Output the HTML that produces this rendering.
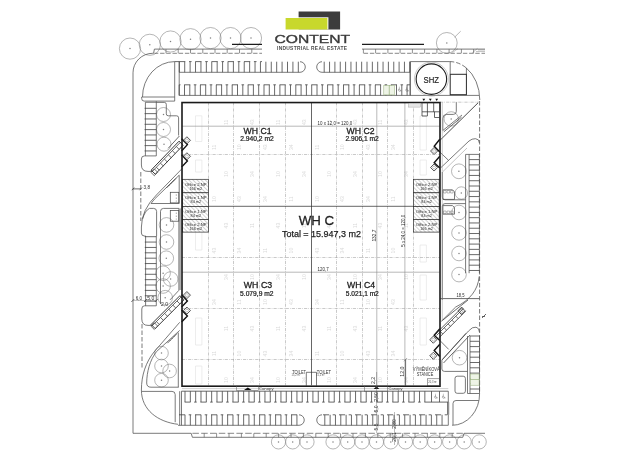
<!DOCTYPE html>
<html><head><meta charset="utf-8"><style>
html,body{margin:0;padding:0;background:#fff;}
body{width:624px;height:468px;overflow:hidden;position:relative;}
svg{position:absolute;left:0;top:0;will-change:transform;filter:blur(0.3px);}
.ln{fill:none;stroke:#4d4d4d;stroke-width:0.75;}
.st{fill:none;stroke:#444;stroke-width:0.8;}
.sw{fill:none;stroke:#555;stroke-width:0.65;}
.cap{fill:none;stroke:#4f4f4f;stroke-width:0.7;stroke-dasharray:6.2 1.6 1.4 1.5;}
.dsh{fill:none;stroke:#4d4d4d;stroke-width:0.75;stroke-dasharray:4.5 2;}
.tr{fill:none;stroke:#858585;stroke-width:0.6;}
.grid{fill:none;stroke:#9e9e9e;stroke-width:0.55;stroke-dasharray:3.2 1.1 0.7 1.1;}
text{font-family:"Liberation Sans",sans-serif;text-anchor:middle;fill:#1e1e1e;}
.sa{text-anchor:start;}
.t0{font-size:13.5px;stroke:#1e1e1e;stroke-width:0.3px;}
.t1{font-size:8.2px;stroke:#1e1e1e;stroke-width:0.28px;}
.t2{font-size:6.3px;stroke:#1e1e1e;stroke-width:0.22px;}
.tt{font-size:9.5px;stroke:#1e1e1e;stroke-width:0.25px;}
.dim{font-size:5px;fill:#2a2a2a;}
.sm{font-size:3.3px;fill:#444;}
.fl{font-size:5.2px;fill:#dadada;}
.sm2{font-size:2.6px;fill:#555;}
.tl{font-size:4.7px;fill:#333;}
.d5{font-size:5.3px;fill:#333;}
.off{font-size:4.1px;fill:#262626;}
.dis{font-size:4px;fill:#555;}
.shz{font-size:9.3px;fill:#222;stroke:#222;stroke-width:0.2px;}
.logo1{font-size:11.6px;fill:#3a3a3a;stroke:#3a3a3a;stroke-width:0.35px;}
.logo2{font-size:4.9px;font-weight:bold;fill:#4a4a4a;}
</style></head><body>
<svg width="624" height="468" viewBox="0 0 624 468">
<defs><pattern id="hatch" width="2.9" height="2.9" patternUnits="userSpaceOnUse" patternTransform="rotate(-45)"><rect width="2.9" height="2.9" fill="#fff"/><path d="M0,0V2.9" stroke="#6a6a6a" stroke-width="0.6"/></pattern></defs>
<circle cx="130" cy="48.6" r="10.6" class="tr"/>
<circle cx="130" cy="48.6" r="0.75" fill="#808080"/>
<circle cx="149.8" cy="44.8" r="10.6" class="tr"/>
<circle cx="149.8" cy="44.8" r="0.75" fill="#808080"/>
<circle cx="170.5" cy="41.5" r="10.6" class="tr"/>
<circle cx="170.5" cy="41.5" r="0.75" fill="#808080"/>
<circle cx="190.5" cy="39.2" r="10.6" class="tr"/>
<circle cx="190.5" cy="39.2" r="0.75" fill="#808080"/>
<circle cx="210.5" cy="38.1" r="10.6" class="tr"/>
<circle cx="210.5" cy="38.1" r="0.75" fill="#808080"/>
<circle cx="230.5" cy="38.1" r="10.6" class="tr"/>
<circle cx="230.5" cy="38.1" r="0.75" fill="#808080"/>
<circle cx="251" cy="38.1" r="10.6" class="tr"/>
<circle cx="251" cy="38.1" r="0.75" fill="#808080"/>
<circle cx="446.8" cy="42.9" r="10.4" class="tr"/>
<circle cx="446.8" cy="42.9" r="0.75" fill="#808080"/>
<path d="M454.6,37.2L460.7,31.2" class="tr"/>
<path d="M452.4,52.6L458,48.6M472.3,52.8L477.5,48.4M476,51.5H485M478,50H485" stroke="#888" stroke-width="0.5" fill="none"/>
<circle cx="163.5" cy="114.5" r="7" class="tr"/>
<circle cx="163.5" cy="114.5" r="0.75" fill="#808080"/>
<circle cx="163.5" cy="129.5" r="7" class="tr"/>
<circle cx="163.5" cy="129.5" r="0.75" fill="#808080"/>
<circle cx="164" cy="144.2" r="7" class="tr"/>
<circle cx="164" cy="144.2" r="0.75" fill="#808080"/>
<circle cx="166.5" cy="224.9" r="7.3" class="tr"/>
<circle cx="166.5" cy="224.9" r="0.75" fill="#808080"/>
<circle cx="166.5" cy="242" r="7.3" class="tr"/>
<circle cx="166.5" cy="242" r="0.75" fill="#808080"/>
<circle cx="166.3" cy="258.2" r="7.3" class="tr"/>
<circle cx="166.3" cy="258.2" r="0.75" fill="#808080"/>
<circle cx="163.1" cy="273.2" r="7.3" class="tr"/>
<circle cx="163.1" cy="273.2" r="0.75" fill="#808080"/>
<circle cx="170.6" cy="279" r="7.3" class="tr"/>
<circle cx="170.6" cy="279" r="0.75" fill="#808080"/>
<circle cx="163.1" cy="286" r="7.3" class="tr"/>
<circle cx="163.1" cy="286" r="0.75" fill="#808080"/>
<circle cx="165.2" cy="297.7" r="7.3" class="tr"/>
<circle cx="165.2" cy="297.7" r="0.75" fill="#808080"/>
<circle cx="161.5" cy="353.1" r="6.8" class="tr"/>
<circle cx="161.5" cy="353.1" r="0.75" fill="#808080"/>
<circle cx="161.5" cy="366" r="6.8" class="tr"/>
<circle cx="161.5" cy="366" r="0.75" fill="#808080"/>
<circle cx="169.6" cy="371" r="6.8" class="tr"/>
<circle cx="169.6" cy="371" r="0.75" fill="#808080"/>
<circle cx="161.5" cy="380.2" r="6.8" class="tr"/>
<circle cx="161.5" cy="380.2" r="0.75" fill="#808080"/>
<circle cx="451.2" cy="118.9" r="7.2" class="tr"/>
<circle cx="451.2" cy="118.9" r="0.75" fill="#808080"/>
<circle cx="458.9" cy="171.3" r="7.4" class="tr"/>
<circle cx="458.9" cy="171.3" r="0.75" fill="#808080"/>
<circle cx="461.3" cy="193" r="6.2" class="tr"/>
<circle cx="461.3" cy="193" r="0.75" fill="#808080"/>
<circle cx="459" cy="212.5" r="7.3" class="tr"/>
<circle cx="459" cy="212.5" r="0.75" fill="#808080"/>
<circle cx="459" cy="232.9" r="7.3" class="tr"/>
<circle cx="459" cy="232.9" r="0.75" fill="#808080"/>
<circle cx="459" cy="253.5" r="7.3" class="tr"/>
<circle cx="459" cy="253.5" r="0.75" fill="#808080"/>
<circle cx="459" cy="274.6" r="7.3" class="tr"/>
<circle cx="459" cy="274.6" r="0.75" fill="#808080"/>
<circle cx="459.5" cy="357.7" r="7.3" class="tr"/>
<circle cx="459.5" cy="357.7" r="0.75" fill="#808080"/>
<circle cx="278.5" cy="441.9" r="7.1" class="tr"/>
<circle cx="278.5" cy="441.9" r="0.75" fill="#808080"/>
<circle cx="292.7" cy="441.9" r="7.1" class="tr"/>
<circle cx="292.7" cy="441.9" r="0.75" fill="#808080"/>
<circle cx="307" cy="441.9" r="7.1" class="tr"/>
<circle cx="307" cy="441.9" r="0.75" fill="#808080"/>
<circle cx="333" cy="441.9" r="7.1" class="tr"/>
<circle cx="333" cy="441.9" r="0.75" fill="#808080"/>
<circle cx="347.7" cy="441.9" r="7.1" class="tr"/>
<circle cx="347.7" cy="441.9" r="0.75" fill="#808080"/>
<circle cx="362" cy="441.9" r="7.1" class="tr"/>
<circle cx="362" cy="441.9" r="0.75" fill="#808080"/>
<circle cx="376.5" cy="441.9" r="7.1" class="tr"/>
<circle cx="376.5" cy="441.9" r="0.75" fill="#808080"/>
<circle cx="390.8" cy="441.9" r="7.1" class="tr"/>
<circle cx="390.8" cy="441.9" r="0.75" fill="#808080"/>
<circle cx="405.5" cy="441.9" r="7.1" class="tr"/>
<circle cx="405.5" cy="441.9" r="0.75" fill="#808080"/>
<circle cx="420.2" cy="441.9" r="7.1" class="tr"/>
<circle cx="420.2" cy="441.9" r="0.75" fill="#808080"/>
<circle cx="434.6" cy="441.9" r="7.1" class="tr"/>
<circle cx="434.6" cy="441.9" r="0.75" fill="#808080"/>
<circle cx="449.6" cy="441.9" r="7.1" class="tr"/>
<circle cx="449.6" cy="441.9" r="0.75" fill="#808080"/>
<circle cx="464.2" cy="441.9" r="7.1" class="tr"/>
<circle cx="464.2" cy="441.9" r="0.75" fill="#808080"/>
<circle cx="479.2" cy="441.9" r="7.1" class="tr"/>
<circle cx="479.2" cy="441.9" r="0.75" fill="#808080"/>
<path d="M133,433.3V72.8A19.7,19.5 0 0 1 152.7,53.3H153.6L154.4,49.1H262M362,49.1H485" class="ln"/>
<path d="M154.4,53.3H262" stroke="#555" stroke-width="0.7" fill="none" stroke-dasharray="4.4 1.8" stroke-dashoffset="0.50"/>
<path d="M166.0,49.1V53.3M178.2,49.1V53.3M190.5,49.1V53.3M202.8,49.1V53.3M215.0,49.1V53.3M227.2,49.1V53.3M239.5,49.1V53.3M251.8,49.1V53.3" class="sw"/>
<path d="M362,53.3H485" stroke="#555" stroke-width="0.7" fill="none" stroke-dasharray="4.4 1.8" stroke-dashoffset="4.50"/>
<path d="M363.4,49.1V53.3M375.6,49.1V53.3M387.9,49.1V53.3M400.1,49.1V53.3M412.4,49.1V53.3M424.6,49.1V53.3M436.9,49.1V53.3M449.1,49.1V53.3M461.4,49.1V53.3M473.6,49.1V53.3" class="sw"/>
<path d="M133,433.3H191.2L192.4,437.3H462.8L464,433.3H485" class="ln"/>
<path d="M192.4,433.3H464" stroke="#555" stroke-width="0.7" fill="none" stroke-dasharray="6.5 2.3"/>
<path d="M204.2,433.3V437.3M216.6,433.3V437.3M229.0,433.3V437.3M241.4,433.3V437.3M253.8,433.3V437.3M266.2,433.3V437.3M278.6,433.3V437.3M291.0,433.3V437.3M303.4,433.3V437.3M315.8,433.3V437.3M328.2,433.3V437.3M340.6,433.3V437.3M353.0,433.3V437.3M365.4,433.3V437.3M377.8,433.3V437.3M390.2,433.3V437.3M402.6,433.3V437.3M415.0,433.3V437.3M427.4,433.3V437.3M439.8,433.3V437.3M452.2,433.3V437.3" class="sw"/>
<path d="M232,44.3H262M362,44.3H424" stroke="#1c1c1c" stroke-width="1.15" fill="none"/>
<path d="M174.7,61.6A32.2,35.4 0 0 0 142.5,97H174.7M174.7,61.6V101.1H144.2Q141.7,101.1 141.7,98.6V97H142.5" class="ln"/>
<path d="M179.2,61.6V95.5" class="ln"/>
<path d="M174.7,61.6H179.2" class="st"/><path d="M179.1,61.6H262" class="st" stroke-dasharray="6.2 3.7 2.6 3.73"/>
<path d="M179.2,72.3H300M322,72.3H410" class="ln"/>
<path d="M300,61.7A5.3,5.3 0 0 1 300,72.3M322,72.3A5.3,5.3 0 0 1 322,61.7" class="ln"/>
<path d="M179.30,61.7V72.3M184.71,61.7V72.3M190.12,61.7V72.3M195.53,61.7V72.3M200.94,61.7V72.3M206.35,61.7V72.3M211.76,61.7V72.3M217.17,61.7V72.3M222.58,61.7V72.3M227.99,61.7V72.3M233.40,61.7V72.3M238.81,61.7V72.3M244.22,61.7V72.3M249.63,61.7V72.3M255.04,61.7V72.3M260.45,61.7V72.3M265.86,61.7V72.3M271.27,61.7V72.3M276.68,61.7V72.3M282.09,61.7V72.3M287.50,61.7V72.3M292.91,61.7V72.3M298.32,61.7V72.3" class="st"/>
<path d="M324.20,61.7V72.3M329.55,61.7V72.3M334.90,61.7V72.3M340.25,61.7V72.3M345.60,61.7V72.3M350.95,61.7V72.3M356.30,61.7V72.3M361.65,61.7V72.3M367.00,61.7V72.3M372.35,61.7V72.3M377.70,61.7V72.3M383.05,61.7V72.3M388.40,61.7V72.3M393.75,61.7V72.3M399.10,61.7V72.3M404.45,61.7V72.3M409.80,61.7V72.3" class="st"/>
<path d="M179.2,84.8H410" class="st" stroke-dasharray="2.6 3.7 6.1 3.5" stroke-dashoffset="1.3"/>
<path d="M179.2,95.4H479" class="ln"/>
<path d="M179.20,84.8V95.4M184.50,84.8V95.4M189.80,84.8V95.4M195.10,84.8V95.4M200.40,84.8V95.4M205.70,84.8V95.4M211.00,84.8V95.4M216.30,84.8V95.4M221.60,84.8V95.4M226.90,84.8V95.4M232.20,84.8V95.4M237.50,84.8V95.4M242.80,84.8V95.4M248.10,84.8V95.4M253.40,84.8V95.4M258.70,84.8V95.4M264.00,84.8V95.4M269.30,84.8V95.4M274.60,84.8V95.4M279.90,84.8V95.4M285.20,84.8V95.4M290.50,84.8V95.4M295.80,84.8V95.4M301.10,84.8V95.4M306.40,84.8V95.4M311.70,84.8V95.4M317.00,84.8V95.4M322.30,84.8V95.4M327.60,84.8V95.4M332.90,84.8V95.4M338.20,84.8V95.4M343.50,84.8V95.4M348.80,84.8V95.4M354.10,84.8V95.4M359.40,84.8V95.4M364.70,84.8V95.4M370.00,84.8V95.4M375.30,84.8V95.4M380.60,84.8V95.4M385.90,84.8V95.4M391.20,84.8V95.4M396.50,84.8V95.4M401.80,84.8V95.4M407.10,84.8V95.4" class="st"/>
<path d="M410,61.6V95.4" class="ln"/>
<rect x="383.8" y="85.4" width="5.3" height="9.5" fill="#eef4e6" stroke="#93ad78" stroke-width="0.5"/>
<rect x="389.3" y="85.4" width="5.3" height="9.5" fill="#eef4e6" stroke="#93ad78" stroke-width="0.5"/>
<path d="M399.3,87.8v2.2h1.2l0.5,1.4M399.3,88.8a1.3,1.3 0 1 0 1.6,1.6" stroke="#555" stroke-width="0.4" fill="none"/><circle cx="399.3" cy="87.1" r="0.4" fill="#555"/>
<path d="M406.7,87.8v2.2h1.2l0.5,1.4M406.7,88.8a1.3,1.3 0 1 0 1.6,1.6" stroke="#555" stroke-width="0.4" fill="none"/><circle cx="406.7" cy="87.1" r="0.4" fill="#555"/>
<path d="M410.4,95.4V61.6H449.8" class="ln"/>
<path d="M449.8,61.6A30,38.4 0 0 1 466.1,67.8" class="dsh"/>
<path d="M466.1,67.8A30,38.4 0 0 1 479.8,100M466.4,67.8V74.4" class="ln"/>
<circle cx="431.4" cy="79.1" r="17" fill="none" stroke="#999" stroke-width="0.5"/>
<circle cx="431.4" cy="79.1" r="15.25" fill="none" stroke="#1e1e1e" stroke-width="1.1"/>
<text x="431.3" y="82.7" class="shz" textLength="15.4" lengthAdjust="spacingAndGlyphs">SHZ</text>
<rect x="450.2" y="74.3" width="16.2" height="20.4" fill="none" stroke="#2a2a2a" stroke-width="1"/>
<path d="M450.2,61.6V74.3" class="ln"/>
<path d="M479.6,101V393.5" class="dsh"/>
<path d="M440,102.2H479.6" class="grid"/>
<path d="M478,102.9L440.3,140" stroke="#2e2e2e" stroke-width="0.85" fill="none"/>
<path d="M456.3,102.2V111.4Q456.3,114.4 453.3,114.4H446.8Q442.8,114.4 442.8,118.4V130.5L462,115" class="ln"/>
<path d="M443.8,131.8L461.5,117.2" class="st"/>
<path d="M441,167.5L469,141Q472,138.5 475.5,138.7Q479.4,139 479.4,143" class="ln"/>
<path d="M443,171.5L467,148" stroke="#888" stroke-width="0.5"/>
<path d="M465.6,154.4V273.2M469.1,154.4V273.2" class="ln"/>
<path d="M465.6,154.4H479.4" class="ln"/>
<path d="M469.1,159.60H479.4M469.1,164.88H479.4M469.1,170.16H479.4M469.1,175.44H479.4M469.1,180.72H479.4M469.1,186.00H479.4M469.1,191.28H479.4M469.1,196.56H479.4M469.1,201.84H479.4M469.1,207.12H479.4M469.1,212.40H479.4M469.1,217.68H479.4M469.1,222.96H479.4M469.1,228.24H479.4M469.1,233.52H479.4M469.1,238.80H479.4M469.1,244.08H479.4M469.1,249.36H479.4M469.1,254.64H479.4M469.1,259.92H479.4M469.1,265.20H479.4M469.1,270.48H479.4" class="st"/>
<path d="M479.4,154.4V273.2" class="ln"/>
<path d="M442.3,172V197Q442.3,199.8 445,199.8H465.6M465.6,203.6H445Q442.3,203.6 442.3,206.4V300" class="ln"/>
<path d="M442.9,189.8H452.5L454.5,191.8V199.4H442.9Z" class="ln"/>
<path d="M442.9,205.6H452.5L454.5,207.6V214.2H442.9Z" class="ln"/>
<path d="M443.6,190.5h2.5v2.5h-2.5zM447.1,190.5h2.5v2.5h-2.5zM450.6,190.5h2.5v2.5h-2.5zM443.6,211h2.5v2.5h-2.5zM447.1,211h2.5v2.5h-2.5zM450.6,211h2.5v2.5h-2.5z" stroke="#666" stroke-width="0.45" fill="none"/>
<path d="M479.2,276.4C478,290 470,300 455.7,307L441.2,321.4" class="ln"/>
<path d="M440.4,298.6H479.4" class="st"/>
<text x="460.5" y="297.2" class="dim" textLength="8" lengthAdjust="spacingAndGlyphs">18,5</text>
<path d="M482,318L486,314M482,316.5L485,316.5" class="st"/>
<path d="M441.9,360.1L468.5,331Q472.5,326.5 476,327.2Q479.4,328 479.4,332" class="ln"/>
<path d="M443.5,363L470,335" class="st"/>
<path d="M441.9,360.1V369Q441.9,371.4 444.5,371.4H467.5" class="ln"/>
<path d="M467.5,336V393.5M470,336V393.5" class="ln"/>
<path d="M470,336.00H479.6M470,341.30H479.6M470,346.60H479.6M470,351.90H479.6M470,357.20H479.6M470,362.50H479.6M470,367.80H479.6M470,373.10H479.6M470,378.40H479.6M470,383.70H479.6M470,389.00H479.6" class="st"/>
<path d="M479.5,336V393.5" class="ln"/>
<rect x="470.3" y="374" width="8.8" height="5.6" fill="#eef4e6" stroke="#93ad78" stroke-width="0.5"/>
<rect x="470.3" y="379.6" width="8.8" height="5.6" fill="#eef4e6" stroke="#93ad78" stroke-width="0.5"/>
<rect x="455" y="376.2" width="10.4" height="17.1" rx="2.2" class="ln"/>
<path d="M478.7,400.5H456Q453,400.5 453,403.5V425M479.6,393.5A27.5,31.5 0 0 1 452.1,425.3" class="ln"/>
<path d="M447.5,402.1V414.8M448.7,402.1V414.8" class="ln"/>
<path d="M467.5,393.5H479.6" class="ln"/>
<path d="M140.8,172V221M142,324V368" class="dsh"/>
<path d="M133,188.9H140.8M131.8,190.2L134.2,187.6M139.6,190.2L142,187.6" class="st"/>
<text x="143.6" y="188.5" class="dim sa" textLength="6.4" lengthAdjust="spacingAndGlyphs">3,8</text>
<path d="M145.4,102.3V155.9M156.3,101.3V155.9" class="ln"/>
<path d="M144.6,108.30H156.3M144.6,113.63H156.3M144.6,118.96H156.3M144.6,124.29H156.3M144.6,129.62H156.3M144.6,134.95H156.3M144.6,140.28H156.3M144.6,145.61H156.3M144.6,150.94H156.3" class="st"/>
<path d="M145.4,102.3H156.3" class="ln"/>
<path d="M156.3,102.4H164.3Q166.3,102.4 166.3,104.4V113.8Q166.3,115.8 168.3,115.8H176.6Q178.6,115.8 178.6,117.8V135.5" class="ln"/>
<path d="M156.3,155.9H144.5Q141.4,155.9 141.4,159V165Q141.4,171.4 148,171.4H152.4" class="ln"/>
<path d="M179.0,141.2L151.1,170.2L155.3,174.2L183.2,145.2Z" stroke="#222" stroke-width="0.9" fill="none"/>
<path d="M180.3,142.4L152.4,171.4" class="st"/>
<path d="M176.3,146.5L179.2,149.4M172.3,150.7L175.2,153.5M168.3,154.8L171.2,157.6M164.3,159.0L167.2,161.8M160.3,163.1L163.3,165.9M156.3,167.3L159.3,170.1" class="st"/>
<rect x="-2.4" y="-2.4" width="4.8" height="4.8" transform="translate(154.3,172.3) rotate(45)" class="ln"/>
<path d="M181.6,138.7L187.4,144.6L181.6,151" stroke="#111" stroke-width="1.4" fill="none"/>
<path d="M181.6,154.7L187.4,161.1L181.6,167" stroke="#111" stroke-width="1.4" fill="none"/>
<rect x="-2.5" y="-2.5" width="5" height="5" transform="translate(186.9,140.3) rotate(45)" stroke="#333" stroke-width="0.8" fill="none"/>
<rect x="-1.2" y="-1.2" width="2.4" height="2.4" transform="translate(186.9,140.3) rotate(45)" stroke="#666" stroke-width="0.4" fill="none"/>
<rect x="-2.5" y="-2.5" width="5" height="5" transform="translate(186.9,156.3) rotate(45)" stroke="#333" stroke-width="0.8" fill="none"/>
<rect x="-1.2" y="-1.2" width="2.4" height="2.4" transform="translate(186.9,156.3) rotate(45)" stroke="#666" stroke-width="0.4" fill="none"/>
<path d="M179.4,136L168.2,148.3" class="st"/>
<path d="M439.8,139.2L434.2,146.2L439.8,152" stroke="#111" stroke-width="1.4" fill="none"/>
<path d="M439.8,156.3L434.2,162.7L439.8,168" stroke="#111" stroke-width="1.4" fill="none"/>
<rect x="-2.5" y="-2.5" width="5" height="5" transform="translate(434.1,151) rotate(45)" stroke="#333" stroke-width="0.8" fill="none"/>
<rect x="-1.2" y="-1.2" width="2.4" height="2.4" transform="translate(434.1,151) rotate(45)" stroke="#666" stroke-width="0.4" fill="none"/>
<rect x="-2.5" y="-2.5" width="5" height="5" transform="translate(434.1,167.5) rotate(45)" stroke="#333" stroke-width="0.8" fill="none"/>
<rect x="-1.2" y="-1.2" width="2.4" height="2.4" transform="translate(434.1,167.5) rotate(45)" stroke="#666" stroke-width="0.4" fill="none"/>
<path d="M439.8,152L448.5,160.3" class="ln"/>
<path d="M439.8,328.8L434.2,335.3L439.8,340.4" stroke="#111" stroke-width="1.4" fill="none"/>
<path d="M439.8,344.2L434.2,350.6L439.8,356.4" stroke="#111" stroke-width="1.4" fill="none"/>
<rect x="-2.5" y="-2.5" width="5" height="5" transform="translate(433.3,339.7) rotate(45)" stroke="#333" stroke-width="0.8" fill="none"/>
<rect x="-1.2" y="-1.2" width="2.4" height="2.4" transform="translate(433.3,339.7) rotate(45)" stroke="#666" stroke-width="0.4" fill="none"/>
<rect x="-2.5" y="-2.5" width="5" height="5" transform="translate(433.3,355.8) rotate(45)" stroke="#333" stroke-width="0.8" fill="none"/>
<rect x="-1.2" y="-1.2" width="2.4" height="2.4" transform="translate(433.3,355.8) rotate(45)" stroke="#666" stroke-width="0.4" fill="none"/>
<path d="M439.8,340.4L448.7,349.4" class="ln"/>
<path d="M462.3,307.3L435.3,334.3M465.90000000000003,310.90000000000003L438.90000000000003,337.90000000000003" stroke="#2e2e2e" stroke-width="0.8" fill="none"/>
<path d="M463.5,308.5L436.5,335.5" class="st"/>
<path d="M459.6,312.4l2.4,2.4M455.8,316.2l2.4,2.4M451.9,320.1l2.4,2.4M448.1,323.9l2.4,2.4M444.2,327.8l2.4,2.4M440.4,331.6l2.4,2.4" class="st"/>
<rect x="-2.5" y="-2.5" width="5" height="5" transform="translate(461.5,310.8) rotate(45)" stroke="#333" stroke-width="0.8" fill="none"/>
<rect x="-1.2" y="-1.2" width="2.4" height="2.4" transform="translate(461.5,310.8) rotate(45)" stroke="#666" stroke-width="0.4" fill="none"/>
<path d="M442.3,320.5L468,300" class="st"/>
<path d="M442.3,359.6L466,333.3" class="st"/>
<path d="M442.3,102.2V320.5" stroke="#999" stroke-width="0.5"/>
<path d="M182.3,168.4L156.4,195Q141.4,210 141.4,227V233Q141.4,236 144.5,236H145.7" class="ln"/>
<path d="M179.2,175.2L154.5,199.1L151,203.5H179.2Z" class="ln"/>
<path d="M176,178.4L173,181.4M173.8,180.6L170.8,183.6M171.6,182.8L168.6,185.8M169.4,185L166.4,188" class="st"/>
<rect x="170.3" y="192.3" width="8.5" height="10.6" class="ln"/>
<rect x="170.3" y="210.5" width="8.5" height="10.7" class="ln"/>
<path d="M176.3,194.3v1.5M176.3,197.5v1.5M176.3,200.5v1.2M176.3,212.5v1.5M176.3,215.5v1.5M176.3,218.5v1.2" stroke="#777" stroke-width="0.6"/>
<path d="M156.6,236V211.4Q156.6,208.4 153.6,208.4H149.5Q145,210.5 142.6,219" class="ln"/>
<path d="M178.9,208.4H163.5Q160.5,208.4 160.5,211.4V304" class="ln"/>
<path d="M178.9,208.4V290.3L170,299.9M180.1,208.4V290" class="ln"/>
<path d="M145.6,236V305.8M156.3,236V305.8" class="ln"/>
<path d="M144.8,236.70H156.3M144.8,242.07H156.3M144.8,247.44H156.3M144.8,252.81H156.3M144.8,258.18H156.3M144.8,263.55H156.3M144.8,268.92H156.3M144.8,274.29H156.3M144.8,279.66H156.3M144.8,285.03H156.3M144.8,290.40H156.3M144.8,295.77H156.3M144.8,301.14H156.3" class="st"/>
<path d="M132.8,300.5H156.3" stroke="#888" stroke-width="0.5"/>
<path d="M131.3,302L134.3,299M144,302L147,299M154.8,302L157.8,299" stroke="#333" stroke-width="0.7"/>
<text x="135.8" y="299.8" class="dim sa" textLength="6.3" lengthAdjust="spacingAndGlyphs">6,0</text><text x="147.3" y="299.8" class="dim sa" textLength="7" lengthAdjust="spacingAndGlyphs">5,0</text><text x="161" y="305.8" class="dim sa" textLength="7" lengthAdjust="spacingAndGlyphs">2,0</text>
<path d="M156.3,305.8H144.5Q141.8,305.8 141.8,309V319Q141.8,325.4 148,325.4H153" class="ln"/>
<path d="M179.9,295.7L151.1,324.5L155.2,328.6L184.0,299.8Z" stroke="#222" stroke-width="0.9" fill="none"/>
<path d="M181.1,296.9L152.3,325.7" class="st"/>
<path d="M177.0,301.0L179.9,303.9M172.9,305.2L175.8,308.0M168.8,309.3L171.7,312.1M164.7,313.4L167.5,316.3M160.6,317.5L163.4,320.4M156.4,321.6L159.3,324.5" class="st"/>
<rect x="-2.4" y="-2.4" width="4.8" height="4.8" transform="translate(154.3,326.1) rotate(45)" class="ln"/>
<path d="M181.6,294.6L187.4,301L181.6,306.9" stroke="#111" stroke-width="1.4" fill="none"/>
<path d="M181.6,310.1L187.4,316L181.6,321.9" stroke="#111" stroke-width="1.4" fill="none"/>
<rect x="-2.5" y="-2.5" width="5" height="5" transform="translate(186.9,295.1) rotate(45)" stroke="#333" stroke-width="0.8" fill="none"/>
<rect x="-1.2" y="-1.2" width="2.4" height="2.4" transform="translate(186.9,295.1) rotate(45)" stroke="#666" stroke-width="0.4" fill="none"/>
<rect x="-2.5" y="-2.5" width="5" height="5" transform="translate(186.9,310.6) rotate(45)" stroke="#333" stroke-width="0.8" fill="none"/>
<rect x="-1.2" y="-1.2" width="2.4" height="2.4" transform="translate(186.9,310.6) rotate(45)" stroke="#666" stroke-width="0.4" fill="none"/>
<path d="M179.7,322.3L154,352C146,362 141.4,375 141.4,390C141.4,410 158,422 178,424.3" class="ln"/>
<path d="M179.7,330.4L156.4,351.7C150,360 146.7,372 146.7,383Q146.7,387.2 151,387.2H178.7" class="ln"/>
<path d="M177,333.6L174,336.6M174.8,335.8L171.8,338.8M172.6,338L169.6,341M170.4,340.2L167.4,343.2" class="st"/>
<path d="M178.3,332.5V387.2" class="ln"/>
<path d="M141.9,391.4H172Q175.2,391.4 175.2,394.6V422.2" class="ln"/>
<path d="M179.7,391.2V425.3M181.5,391.2V425.3" class="ln"/>
<path d="M184.7,402.1H426" class="st" stroke-dasharray="6.1 3.6 2.6 3.7" stroke-dashoffset="0.3"/><path d="M426,402.1H448.3" class="st"/><path d="M181.5,391.2H448.3" class="st"/>
<path d="M185.00,391.2V402.1M190.33,391.2V402.1M195.66,391.2V402.1M200.99,391.2V402.1M206.32,391.2V402.1M211.65,391.2V402.1M216.98,391.2V402.1M222.31,391.2V402.1M227.64,391.2V402.1M232.97,391.2V402.1M238.30,391.2V402.1M243.63,391.2V402.1M248.96,391.2V402.1M254.29,391.2V402.1M259.62,391.2V402.1M264.95,391.2V402.1M270.28,391.2V402.1M275.61,391.2V402.1M280.94,391.2V402.1M286.27,391.2V402.1M291.60,391.2V402.1M296.93,391.2V402.1M302.26,391.2V402.1M307.59,391.2V402.1M312.92,391.2V402.1M318.25,391.2V402.1M323.58,391.2V402.1M328.91,391.2V402.1M334.24,391.2V402.1M339.57,391.2V402.1M344.90,391.2V402.1M350.23,391.2V402.1M355.56,391.2V402.1M360.89,391.2V402.1M366.22,391.2V402.1M371.55,391.2V402.1M376.88,391.2V402.1M382.21,391.2V402.1M387.54,391.2V402.1M392.87,391.2V402.1M398.20,391.2V402.1M403.53,391.2V402.1M408.86,391.2V402.1M414.19,391.2V402.1M419.52,391.2V402.1M424.85,391.2V402.1" class="st"/>
<path d="M431.5,391.2V402.1M439.5,391.2V402.1" class="st"/>
<path d="M448.3,391.2V402.1" class="ln"/>
<path d="M178,425.3H299M322,425.3H448.3" class="ln"/>
<path d="M179,414.8H299" class="st" stroke-dasharray="6.1 3.6 2.6 3.7"/><path d="M322,414.8H448.3" class="st" stroke-dasharray="6.1 3.6 2.6 3.7" stroke-dashoffset="15"/>
<path d="M299,414.8A5.25,5.25 0 0 1 299,425.3M322,425.3A5.25,5.25 0 0 1 322,414.8" class="ln"/>
<path d="M185.00,414.8V425.3M190.33,414.8V425.3M195.66,414.8V425.3M200.99,414.8V425.3M206.32,414.8V425.3M211.65,414.8V425.3M216.98,414.8V425.3M222.31,414.8V425.3M227.64,414.8V425.3M232.97,414.8V425.3M238.30,414.8V425.3M243.63,414.8V425.3M248.96,414.8V425.3M254.29,414.8V425.3M259.62,414.8V425.3M264.95,414.8V425.3M270.28,414.8V425.3M275.61,414.8V425.3M280.94,414.8V425.3M286.27,414.8V425.3M291.60,414.8V425.3M296.93,414.8V425.3" class="st"/>
<path d="M324.80,414.8V425.3M330.13,414.8V425.3M335.46,414.8V425.3M340.79,414.8V425.3M346.12,414.8V425.3M351.45,414.8V425.3M356.78,414.8V425.3M362.11,414.8V425.3M367.44,414.8V425.3M372.77,414.8V425.3M378.10,414.8V425.3M383.43,414.8V425.3M388.76,414.8V425.3M394.09,414.8V425.3M399.42,414.8V425.3M404.75,414.8V425.3M410.08,414.8V425.3M415.41,414.8V425.3M420.74,414.8V425.3M426.07,414.8V425.3M431.40,414.8V425.3M436.73,414.8V425.3M442.06,414.8V425.3" class="st"/>
<path d="M448.3,414.8V425.3" class="ln"/>
<path d="M435.5,394.8v2.2h1.2l0.5,1.4M435.5,395.8a1.3,1.3 0 1 0 1.6,1.6" stroke="#555" stroke-width="0.4" fill="none"/><circle cx="435.5" cy="394.1" r="0.4" fill="#555"/>
<path d="M443.3,394.8v2.2h1.2l0.5,1.4M443.3,395.8a1.3,1.3 0 1 0 1.6,1.6" stroke="#555" stroke-width="0.4" fill="none"/><circle cx="443.3" cy="394.1" r="0.4" fill="#555"/>
<text transform="translate(228.2,122.2) rotate(-90)" class="fl">11</text>
<text transform="translate(228.2,174) rotate(-90)" class="fl">10</text>
<text transform="translate(228.2,225.5) rotate(-90)" class="fl">43</text>
<text transform="translate(228.2,277) rotate(-90)" class="fl">34</text>
<text transform="translate(228.2,328.5) rotate(-90)" class="fl">11</text>
<text transform="translate(228.2,380) rotate(-90)" class="fl">10</text>
<text transform="translate(254.2,122.2) rotate(-90)" class="fl">43</text>
<text transform="translate(254.2,174) rotate(-90)" class="fl">34</text>
<text transform="translate(254.2,225.5) rotate(-90)" class="fl">11</text>
<text transform="translate(254.2,277) rotate(-90)" class="fl">10</text>
<text transform="translate(254.2,328.5) rotate(-90)" class="fl">43</text>
<text transform="translate(254.2,380) rotate(-90)" class="fl">34</text>
<text transform="translate(280.2,122.2) rotate(-90)" class="fl">11</text>
<text transform="translate(280.2,174) rotate(-90)" class="fl">10</text>
<text transform="translate(280.2,225.5) rotate(-90)" class="fl">43</text>
<text transform="translate(280.2,277) rotate(-90)" class="fl">34</text>
<text transform="translate(280.2,328.5) rotate(-90)" class="fl">11</text>
<text transform="translate(280.2,380) rotate(-90)" class="fl">10</text>
<text transform="translate(306.2,122.2) rotate(-90)" class="fl">43</text>
<text transform="translate(306.2,174) rotate(-90)" class="fl">34</text>
<text transform="translate(306.2,225.5) rotate(-90)" class="fl">11</text>
<text transform="translate(306.2,277) rotate(-90)" class="fl">10</text>
<text transform="translate(306.2,328.5) rotate(-90)" class="fl">43</text>
<text transform="translate(306.2,380) rotate(-90)" class="fl">34</text>
<text transform="translate(331.2,122.2) rotate(-90)" class="fl">11</text>
<text transform="translate(331.2,174) rotate(-90)" class="fl">10</text>
<text transform="translate(331.2,225.5) rotate(-90)" class="fl">43</text>
<text transform="translate(331.2,277) rotate(-90)" class="fl">34</text>
<text transform="translate(331.2,328.5) rotate(-90)" class="fl">11</text>
<text transform="translate(331.2,380) rotate(-90)" class="fl">10</text>
<text transform="translate(357.2,122.2) rotate(-90)" class="fl">43</text>
<text transform="translate(357.2,174) rotate(-90)" class="fl">34</text>
<text transform="translate(357.2,225.5) rotate(-90)" class="fl">11</text>
<text transform="translate(357.2,277) rotate(-90)" class="fl">10</text>
<text transform="translate(357.2,328.5) rotate(-90)" class="fl">43</text>
<text transform="translate(357.2,380) rotate(-90)" class="fl">34</text>
<text transform="translate(382.2,122.2) rotate(-90)" class="fl">11</text>
<text transform="translate(382.2,174) rotate(-90)" class="fl">10</text>
<text transform="translate(382.2,225.5) rotate(-90)" class="fl">43</text>
<text transform="translate(382.2,277) rotate(-90)" class="fl">34</text>
<text transform="translate(382.2,328.5) rotate(-90)" class="fl">11</text>
<text transform="translate(382.2,380) rotate(-90)" class="fl">10</text>
<text transform="translate(408.2,122.2) rotate(-90)" class="fl">43</text>
<text transform="translate(408.2,174) rotate(-90)" class="fl">34</text>
<text transform="translate(408.2,225.5) rotate(-90)" class="fl">11</text>
<text transform="translate(408.2,277) rotate(-90)" class="fl">10</text>
<text transform="translate(408.2,328.5) rotate(-90)" class="fl">43</text>
<text transform="translate(408.2,380) rotate(-90)" class="fl">34</text>
<text transform="translate(216.4,147.2) rotate(-90)" class="fl">11</text>
<text transform="translate(216.4,199) rotate(-90)" class="fl">10</text>
<text transform="translate(216.4,250.5) rotate(-90)" class="fl">43</text>
<text transform="translate(216.4,302) rotate(-90)" class="fl">34</text>
<text transform="translate(216.4,353.5) rotate(-90)" class="fl">11</text>
<text transform="translate(241.4,147.2) rotate(-90)" class="fl">10</text>
<text transform="translate(241.4,199) rotate(-90)" class="fl">43</text>
<text transform="translate(241.4,250.5) rotate(-90)" class="fl">34</text>
<text transform="translate(241.4,302) rotate(-90)" class="fl">11</text>
<text transform="translate(241.4,353.5) rotate(-90)" class="fl">10</text>
<text transform="translate(267.4,147.2) rotate(-90)" class="fl">43</text>
<text transform="translate(267.4,199) rotate(-90)" class="fl">34</text>
<text transform="translate(267.4,250.5) rotate(-90)" class="fl">11</text>
<text transform="translate(267.4,302) rotate(-90)" class="fl">10</text>
<text transform="translate(267.4,353.5) rotate(-90)" class="fl">43</text>
<text transform="translate(293.4,147.2) rotate(-90)" class="fl">34</text>
<text transform="translate(293.4,199) rotate(-90)" class="fl">11</text>
<text transform="translate(293.4,250.5) rotate(-90)" class="fl">10</text>
<text transform="translate(293.4,302) rotate(-90)" class="fl">43</text>
<text transform="translate(293.4,353.5) rotate(-90)" class="fl">34</text>
<text transform="translate(319.4,147.2) rotate(-90)" class="fl">11</text>
<text transform="translate(319.4,199) rotate(-90)" class="fl">10</text>
<text transform="translate(319.4,250.5) rotate(-90)" class="fl">43</text>
<text transform="translate(319.4,302) rotate(-90)" class="fl">34</text>
<text transform="translate(319.4,353.5) rotate(-90)" class="fl">11</text>
<text transform="translate(344.4,147.2) rotate(-90)" class="fl">10</text>
<text transform="translate(344.4,199) rotate(-90)" class="fl">43</text>
<text transform="translate(344.4,250.5) rotate(-90)" class="fl">34</text>
<text transform="translate(344.4,302) rotate(-90)" class="fl">11</text>
<text transform="translate(344.4,353.5) rotate(-90)" class="fl">10</text>
<text transform="translate(370.4,147.2) rotate(-90)" class="fl">43</text>
<text transform="translate(370.4,199) rotate(-90)" class="fl">34</text>
<text transform="translate(370.4,250.5) rotate(-90)" class="fl">11</text>
<text transform="translate(370.4,302) rotate(-90)" class="fl">10</text>
<text transform="translate(370.4,353.5) rotate(-90)" class="fl">43</text>
<text transform="translate(395.4,147.2) rotate(-90)" class="fl">34</text>
<text transform="translate(395.4,199) rotate(-90)" class="fl">11</text>
<text transform="translate(395.4,250.5) rotate(-90)" class="fl">10</text>
<text transform="translate(395.4,302) rotate(-90)" class="fl">43</text>
<text transform="translate(395.4,353.5) rotate(-90)" class="fl">34</text>
<path d="M195.5,115.8h6.4v25.700000000000003h-6.4zM195.5,160h6.4v12h-6.4zM195.5,215h6.4v35h-6.4zM195.5,318h6.4v27h-6.4zM195.5,366h6.4v18h-6.4zM420,116h6.4v34h-6.4zM420,160h6.4v15h-6.4zM420,245h6.4v17h-6.4zM420,275h6.4v25h-6.4zM420,318h6.4v27h-6.4z" fill="none" stroke="#dedede" stroke-width="0.55"/>
<path d="M208.5,102.3V385.3M233.5,102.3V385.3M259.5,102.3V385.3M285.5,102.3V385.3M336.5,102.3V385.3M362.5,102.3V385.3M387.5,102.3V385.3M413.5,102.3V385.3M182,154.5H439.8M182,257.5H439.8M182,308.5H439.8M182,359.5H439.8" class="grid"/>
<path d="M182,126.2H439.8M182,272.2H439.8M376.8,102.3V385.3M404.9,102.3V385.3" stroke="#8a8a8a" stroke-width="0.6" fill="none"/>
<path d="M182,206.3H439.8M311.5,102.3V385.3" stroke="#333" stroke-width="0.75" fill="none"/>
<rect x="182.6" y="179.3" width="25.8" height="13.5" fill="url(#hatch)" stroke="#2a2a2a" stroke-width="0.7"/>
<text x="195.79999999999998" y="185.6" class="off" textLength="21.5" lengthAdjust="spacingAndGlyphs">Office 2.NP</text>
<text x="195.79999999999998" y="189.8" class="off" textLength="12.7" lengthAdjust="spacingAndGlyphs">166 m2</text>
<rect x="182.6" y="192.8" width="25.8" height="13.6" fill="url(#hatch)" stroke="#2a2a2a" stroke-width="0.7"/>
<text x="195.79999999999998" y="199.1" class="off" textLength="21.5" lengthAdjust="spacingAndGlyphs">Office 1.NP</text>
<text x="195.79999999999998" y="203.3" class="off" textLength="10.5" lengthAdjust="spacingAndGlyphs">84 m2</text>
<rect x="182.6" y="206.4" width="25.8" height="13.0" fill="url(#hatch)" stroke="#2a2a2a" stroke-width="0.7"/>
<text x="195.79999999999998" y="212.7" class="off" textLength="21.5" lengthAdjust="spacingAndGlyphs">Office 1.NP</text>
<text x="195.79999999999998" y="216.9" class="off" textLength="10.5" lengthAdjust="spacingAndGlyphs">84 m2</text>
<rect x="182.6" y="219.4" width="25.8" height="12.7" fill="url(#hatch)" stroke="#2a2a2a" stroke-width="0.7"/>
<text x="195.79999999999998" y="225.7" class="off" textLength="21.5" lengthAdjust="spacingAndGlyphs">Office 2.NP</text>
<text x="195.79999999999998" y="229.9" class="off" textLength="12.7" lengthAdjust="spacingAndGlyphs">166 m2</text>
<rect x="413.4" y="179.3" width="25.8" height="13.5" fill="url(#hatch)" stroke="#2a2a2a" stroke-width="0.7"/>
<text x="426.59999999999997" y="185.6" class="off" textLength="21.5" lengthAdjust="spacingAndGlyphs">Office 2.NP</text>
<text x="426.59999999999997" y="189.8" class="off" textLength="12.7" lengthAdjust="spacingAndGlyphs">166 m2</text>
<rect x="413.4" y="192.8" width="25.8" height="13.6" fill="url(#hatch)" stroke="#2a2a2a" stroke-width="0.7"/>
<text x="426.59999999999997" y="199.1" class="off" textLength="21.5" lengthAdjust="spacingAndGlyphs">Office 1.NP</text>
<text x="426.59999999999997" y="203.3" class="off" textLength="10.5" lengthAdjust="spacingAndGlyphs">84 m2</text>
<rect x="413.4" y="206.4" width="25.8" height="13.0" fill="url(#hatch)" stroke="#2a2a2a" stroke-width="0.7"/>
<text x="426.59999999999997" y="212.7" class="off" textLength="21.5" lengthAdjust="spacingAndGlyphs">Office 1.NP</text>
<text x="426.59999999999997" y="216.9" class="off" textLength="10.5" lengthAdjust="spacingAndGlyphs">84 m2</text>
<rect x="413.4" y="219.4" width="25.8" height="12.7" fill="url(#hatch)" stroke="#2a2a2a" stroke-width="0.7"/>
<text x="426.59999999999997" y="225.7" class="off" textLength="21.5" lengthAdjust="spacingAndGlyphs">Office 2.NP</text>
<text x="426.59999999999997" y="229.9" class="off" textLength="12.7" lengthAdjust="spacingAndGlyphs">166 m2</text>
<rect x="182" y="102.55" width="258" height="283.65" fill="none" stroke="#1a1a1a" stroke-width="1.6"/>
<path d="M422,102.5V111.8H439.8M427.4,102.5V116H422V111.8M433.7,102.5V111.8M434.5,111.8V117.5H439.8" stroke="#333" stroke-width="0.75" fill="none"/>
<rect x="408.5" y="103.3" width="12" height="3.8" fill="#e6e6e6" stroke="#999" stroke-width="0.4"/>
<path d="M422.40000000000003,98.8H425.2L423.8,101Z" fill="#111"/>
<path d="M428.90000000000003,98.8H431.7L430.3,101Z" fill="#111"/>
<path d="M435.3,98.8H438.09999999999997L436.7,101Z" fill="#111"/>
<path d="M306.3,385.8V372.3H316.5V385.8" stroke="#333" stroke-width="0.65" fill="none"/>
<text x="299.1" y="373.5" class="tl" textLength="13.8" lengthAdjust="spacingAndGlyphs">TOILET</text><text x="323.9" y="373.5" class="tl" textLength="14.3" lengthAdjust="spacingAndGlyphs">TOILET</text>
<text x="296" y="376.2" class="sm2">15,2 m²</text><text x="320.5" y="376.2" class="sm2">15,2 m²</text>
<path d="M182,388.6H448.3" stroke="#999" stroke-width="0.45"/>
<path d="M405.6,359.5V385.8" stroke="#333" stroke-width="0.7"/>
<rect x="427.3" y="378.8" width="12.3" height="7" fill="none" stroke="#444" stroke-width="0.5"/>
<text x="426.3" y="371.3" class="tl" textLength="27" lengthAdjust="spacingAndGlyphs">VÝMĚNÍKOVÁ</text><text x="425" y="376.2" class="tl" textLength="16.5" lengthAdjust="spacingAndGlyphs">STANICE</text>
<text transform="translate(404,371.6) rotate(-90)" class="d5">12,0</text>
<path d="M404,361.3L407,358.1" stroke="#444" stroke-width="0.5"/>
<text x="432.7" y="383" class="sm2">20,3 m²</text>
<rect x="364.5" y="386" width="23" height="5.2" fill="none" stroke="#555" stroke-width="0.5"/>
<path d="M373.7,389H379.3L376.5,386.2Z" fill="#111"/>
<path d="M244,390H251.6L247.8,387.4Z" fill="#111"/>
<rect x="236.4" y="386" width="22" height="4.4" fill="none" stroke="#555" stroke-width="0.45"/>
<text x="388.5" y="390" class="sm sa" textLength="14" lengthAdjust="spacingAndGlyphs">Canopy</text><text x="258.8" y="390" class="sm sa" textLength="14.9" lengthAdjust="spacingAndGlyphs">Canopy</text>
<text transform="translate(375,380.4) rotate(-90)" class="d5">2,2</text>
<text transform="translate(378.2,397) rotate(-90)" class="dim">2,50</text>
<text transform="translate(378.2,409) rotate(-90)" class="dim">6,0</text>
<text transform="translate(378.2,427) rotate(-90)" class="dim">5,5</text>
<text transform="translate(396.3,424) rotate(-90)" class="dim">2,80</text>
<text transform="translate(396.3,437) rotate(-90)" class="dim">20,1</text>
<path d="M376.6,372V433.3M394.5,412V445" stroke="#666" stroke-width="0.45"/>
<text x="257.5" y="134.4" class="t1" textLength="28" lengthAdjust="spacingAndGlyphs">WH C1</text>
<text x="257" y="141.3" class="t2" textLength="33.6" lengthAdjust="spacingAndGlyphs">2.940,2 m2</text>
<text x="360.5" y="134.4" class="t1" textLength="28" lengthAdjust="spacingAndGlyphs">WH C2</text>
<text x="362.1" y="141.3" class="t2" textLength="33.4" lengthAdjust="spacingAndGlyphs">2.906,1 m2</text>
<text x="316.5" y="224.8" class="t0" textLength="35.4" lengthAdjust="spacingAndGlyphs">WH C</text>
<text x="321.5" y="237" class="tt" textLength="79.2" lengthAdjust="spacingAndGlyphs">Total = 15.947,3 m2</text>
<text x="258" y="288.2" class="t1" textLength="28.4" lengthAdjust="spacingAndGlyphs">WH C3</text>
<text x="256.8" y="296" class="t2" textLength="33.4" lengthAdjust="spacingAndGlyphs">5.079,9 m2</text>
<text x="361" y="287.7" class="t1" textLength="28" lengthAdjust="spacingAndGlyphs">WH C4</text>
<text x="362.3" y="296" class="t2" textLength="33" lengthAdjust="spacingAndGlyphs">5.021,1 m2</text>
<text x="317.6" y="125.3" class="dim sa" textLength="34.6" lengthAdjust="spacingAndGlyphs">10 x 12,0 = 120,0</text>
<text x="323.1" y="271" class="dim" textLength="11.2" lengthAdjust="spacingAndGlyphs">120,7</text>
<text transform="translate(376.1,235.6) rotate(-90)" class="dim" textLength="12" lengthAdjust="spacingAndGlyphs">132,7</text>
<text transform="translate(404.7,230.8) rotate(-90)" class="dim" textLength="32" lengthAdjust="spacingAndGlyphs">5 x 24,0 = 120,0</text>
<rect x="262" y="0" width="100" height="61" fill="#fff"/>
<rect x="298.6" y="11.5" width="41.5" height="18" fill="#3c3c3c"/>
<rect x="284.9" y="17.3" width="43.5" height="12.2" fill="#fff"/>
<rect x="285.6" y="18" width="41.8" height="11.5" fill="#c8d82c"/>
<text x="274.5" y="42.8" class="logo1 sa" textLength="75.7" lengthAdjust="spacingAndGlyphs">CONTENT</text>
<text x="277" y="50.4" class="logo2 sa" textLength="70" lengthAdjust="spacing">INDUSTRIAL REAL ESTATE</text>
</svg>
</body></html>
